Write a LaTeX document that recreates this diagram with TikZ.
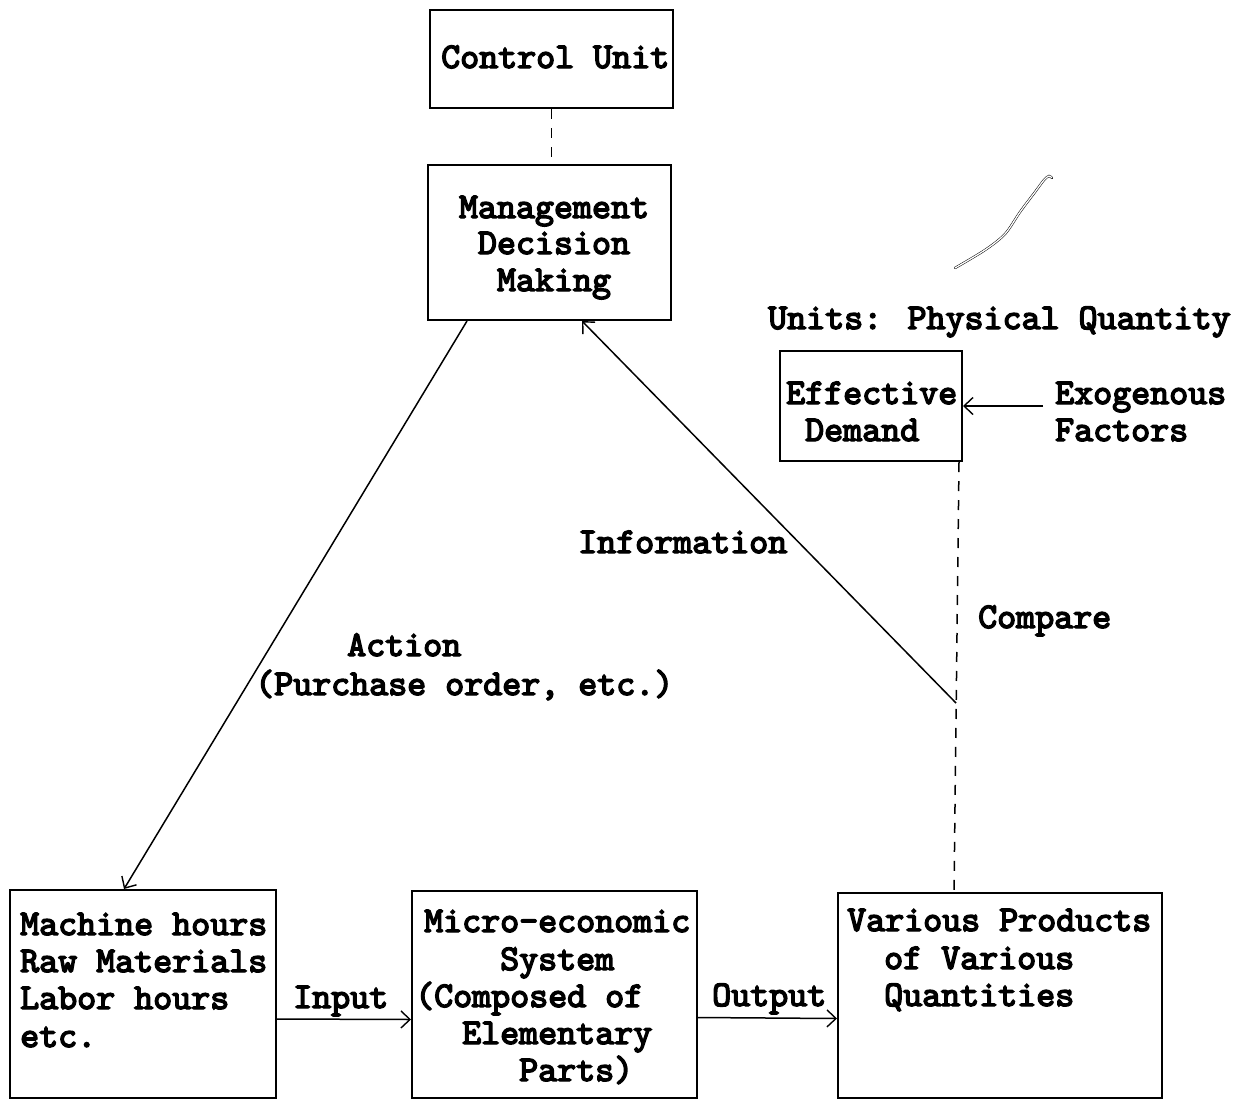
\documentclass[tikz,border=0pt]{standalone}
\usepackage{fontspec}
\newfontfamily\twfont{lmmono10-regular.otf}[FakeBold=4]
\usetikzlibrary{arrows.meta,calc}
\tikzset{
  box/.style={draw, line width=2pt, rectangle, inner sep=0pt},
  txt/.style={anchor=base west, inner sep=0pt, font=\twfont\fontsize{36.2}{42}\selectfont},
  ctxt/.style={anchor=base, inner sep=0pt, font=\twfont\fontsize{36.2}{42}\selectfont},
  conn/.style={line width=1.5pt},
  arr/.style={conn, -{Straight Barb[length=9pt,width=17pt,line width=1.4pt]}},
  dsh/.style={line width=1.5pt, dash pattern=on 10pt off 9pt},
}
\begin{document}
\begin{tikzpicture}[x=1pt,y=-1pt]
\useasboundingbox (0,0) rectangle (1242,1101);
% boxes
\node[box, minimum width=243pt, minimum height=98pt] (cu) at (551.5,59) {};
\node[box, minimum width=243pt, minimum height=155pt] (md) at (549.5,242.5) {};
\node[box, minimum width=182pt, minimum height=110pt] (ed) at (871,406) {};
\node[box, minimum width=266pt, minimum height=208pt] (mh) at (143,994) {};
\node[box, minimum width=285pt, minimum height=207pt] (me) at (554.5,994.5) {};
\node[box, minimum width=324pt, minimum height=205pt] (vp) at (1000,995.5) {};
% texts
\node[txt] (tcu) at (441,68) {Control Unit};
\node[ctxt] (tmd1) at (554,218) {Management};
\node[ctxt] (tmd2) at (554,254) {Decision};
\node[ctxt] (tmd3) at (554,291) {Making};
\node[txt] (tun) at (768,329) {Units: Physical Quantity};
\node[txt] (ted1) at (786,404) {Effective};
\node[txt] (ted2) at (805,441) {Demand};
\node[txt] (tex1) at (1055,404) {Exogenous};
\node[txt] (tex2) at (1055,441) {Factors};
\node[txt] (tinf) at (578,553) {Information};
\node[txt] (tcmp) at (978,628) {Compare};
\node[txt] (tact1) at (347,656) {Action};
\node[txt] (tact2) at (255,695) {(Purchase order, etc.)};
\node[txt] (tmh1) at (20,935) {Machine hours};
\node[txt] (tmh2) at (20,972) {Raw Materials};
\node[txt] (tmh3) at (20,1009) {Labor hours};
\node[txt] (tmh4) at (20,1047) {etc.};
\node[txt] (tme1) at (424,932) {Micro-economic};
\node[txt] (tme2) at (500,970) {System};
\node[txt] (tme3) at (415,1007) {(Composed of};
\node[txt] (tme4) at (462,1044) {Elementary};
\node[txt] (tme5) at (519,1081) {Parts)};
\node[txt] (tvp1) at (847,931) {Various Products};
\node[txt] (tvp2) at (884,969) {of Various};
\node[txt] (tvp3) at (884,1006) {Quantities};
\node[txt] (tin) at (293,1008) {Input};
\node[txt] (tout) at (712,1006) {Output};
% coordinates
\coordinate (actA) at ($(md.south west)+(40,0)$);
\coordinate (actB) at ($(mh.north west)+(115,0)$);
\coordinate (infA) at ($(md.south west)+(155,0)$);
\coordinate (dsA) at ($(ed.south east)+(-4,0)$);
\coordinate (dsB) at ($(vp.north west)+(117,0)$);
\coordinate (junc) at (956,703);
\coordinate (exo) at (1043,406);
% connectors
\draw[dsh] (cu.south) -- (cu.south |- md.north);
\draw[arr] (actA) -- (actB);
\draw[arr] (junc) -- (infA);
\draw[dsh] (dsA) -- (dsB);
\draw[arr] (exo) -- (ed.east);
\draw[arr] ($(mh.east)+(0,25)$) -- ($(me.west)+(0,25)$);
\draw[arr] ($(me.east)+(0,23)$) -- ($(vp.west)+(0,23)$);
% stray pen mark
\draw[line width=0.5pt, double, double distance=1.3pt, line cap=round]
  plot[smooth] coordinates {(955,268) (985,250) (1005,234) (1020,212) (1035,192) (1044,180) (1049,176) (1052,178)};
\end{tikzpicture}
\end{document}
